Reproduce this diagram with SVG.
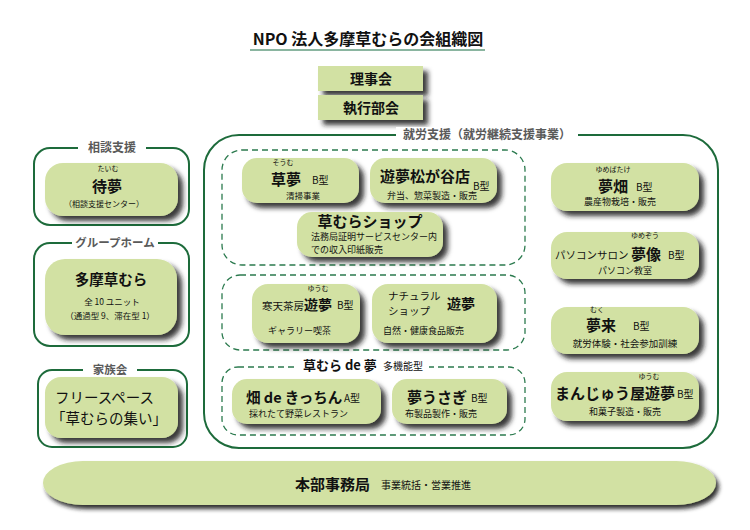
<svg xmlns="http://www.w3.org/2000/svg" width="750" height="530" viewBox="0 0 750 530">
<defs>
<filter id="sh" x="-10%" y="-20%" width="130%" height="160%">
<feGaussianBlur in="SourceAlpha" stdDeviation="2.5"/>
<feOffset dx="5" dy="5" result="b"/>
<feFlood flood-color="#1a1a1a" flood-opacity="0.85"/>
<feComposite in2="b" operator="in"/>
<feMerge><feMergeNode/><feMergeNode in="SourceGraphic"/></feMerge>
</filter>
<filter id="shb" x="-5%" y="-30%" width="110%" height="180%">
<feGaussianBlur in="SourceAlpha" stdDeviation="2"/>
<feOffset dx="3" dy="4" result="b"/>
<feFlood flood-color="#1a1a1a" flood-opacity="0.9"/>
<feComposite in2="b" operator="in"/>
<feMerge><feMergeNode/><feMergeNode in="SourceGraphic"/></feMerge>
</filter>
</defs>
<style>
text{font-family:"Noto Sans CJK JP","Noto Sans",sans-serif;fill:#111}
.n{fill:#d2e1a3;filter:url(#sh)}
.o{fill:none;stroke:#1d6b3b;stroke-width:2}
.d{fill:none;stroke:#2b7a4e;stroke-width:1.3;stroke-dasharray:6 4}
.lb{fill:#fff}
.gl{font-size:12px;font-weight:bold;fill:#5a5a5a}
.t{font-size:15px;font-weight:bold}
.r{font-size:7px}
.s{font-size:9px}
.k{font-size:10px}
.m{text-anchor:middle}
</style>
<rect width="750" height="530" fill="#fff"/>
<g id="title">
<text x="368" y="45" class="m" style="font-size:16px;font-weight:bold">NPO 法人多摩草むらの会組織図</text>
<line x1="250" y1="50" x2="485" y2="50" stroke="#8ab5a0" stroke-width="2"/>
</g>
<g id="rijikai">
<rect x="318" y="66" width="105" height="25" class="n"/>
<text x="371" y="84" class="m" style="font-size:14px;font-weight:bold">理事会</text>
</g>
<g id="shikkoubukai">
<rect x="318" y="95" width="105" height="25" class="n"/>
<text x="371" y="113" class="m" style="font-size:14px;font-weight:bold">執行部会</text>
</g>
<g id="group-soudan">
<rect x="34" y="148" width="155" height="77" rx="16" class="o"/>
<rect x="78" y="140" width="68" height="16" class="lb"/>
<text x="112" y="152" class="gl m">相談支援</text>
</g>
<g id="node-taimu">
<rect x="45" y="163" width="133" height="53" rx="18" class="n"/>
<text x="108" y="171" class="r m">たいむ</text>
<text x="107" y="192" class="m" style="font-size:15px;font-weight:bold">待夢</text>
<text x="104" y="207" class="m" style="font-size:8px">（相談支援センター）</text>
</g>
<g id="group-gh">
<rect x="34" y="243" width="155" height="103" rx="16" class="o"/>
<rect x="72" y="235" width="86" height="16" class="lb"/>
<text x="115" y="247" class="gl m" style="font-size:11.5px">グループホーム</text>
</g>
<g id="node-tamakusamura">
<rect x="45" y="259" width="132" height="76" rx="20" class="n"/>
<text x="111" y="285" class="m" style="font-size:14.5px;font-weight:bold">多摩草むら</text>
<text x="112" y="305" class="m" style="font-size:8.5px">全 10 ユニット</text>
<text x="110" y="319" class="m" style="font-size:8.5px">（通過型 9、滞在型 1）</text>
</g>
<g id="group-kazoku">
<rect x="38" y="370" width="149" height="77" rx="14" class="o"/>
<rect x="83" y="362" width="54" height="16" class="lb"/>
<text x="110" y="374" class="gl m" style="font-size:11.5px">家族会</text>
</g>
<g id="node-freespace">
<rect x="45" y="377" width="133" height="61" rx="16" class="n"/>
<text x="55" y="403" style="font-size:14.5px">フリースペース</text>
<text x="51" y="424" style="font-size:14.5px">「草むらの集い」</text>
</g>
<g id="group-shuurou">
<rect x="204" y="135" width="514" height="313" rx="35" class="o"/>
<rect x="396" y="127" width="182" height="16" class="lb"/>
<text x="403" y="139" class="gl">就労支援（就労継続支援事業）</text>
<rect x="222" y="150" width="303" height="115" rx="20" class="d"/>
<rect x="222" y="275" width="303" height="75" rx="18" class="d"/>
<rect x="222" y="367" width="303" height="68" rx="16" class="d"/>
<rect x="297" y="358" width="132" height="16" class="lb"/>
<text x="303" y="370" style="font-size:13px;font-weight:bold">草むら de 夢</text>
<text x="383" y="370" class="k">多機能型</text>
</g>
<g id="node-soumu">
<rect x="242" y="158" width="117" height="45" rx="15" class="n"/>
<text x="283" y="165" class="r m">そうむ</text>
<text x="286" y="185" class="t m">草夢</text>
<text x="312" y="184" class="k">B型</text>
<text x="303" y="199" class="m" style="font-size:8.5px">清掃事業</text>
</g>
<g id="node-matsugaya">
<rect x="370" y="158" width="127" height="45" rx="15" class="n"/>
<text x="380" y="182" class="t">遊夢松が谷店</text>
<text x="473" y="190" class="k">B型</text>
<text x="432" y="199" class="s m">弁当、惣菜製造・販売</text>
</g>
<g id="node-shop">
<rect x="297" y="212" width="146" height="45" rx="15" class="n"/>
<text x="370" y="227" class="t m">草むらショップ</text>
<text x="311" y="240" class="s">法務局証明サービスセンター内</text>
<text x="311" y="253" class="s">での収入印紙販売</text>
</g>
<g id="node-kanten">
<rect x="252" y="284" width="108" height="59" rx="16" class="n"/>
<text x="318" y="291" class="r m">ゆうむ</text>
<text x="262" y="310" style="font-size:10.5px">寒天茶房</text>
<text x="304" y="310" style="font-size:14px;font-weight:bold">遊夢</text>
<text x="337" y="309" class="k">B型</text>
<text x="268" y="334" class="s">ギャラリー喫茶</text>
</g>
<g id="node-natural">
<rect x="372" y="284" width="125" height="59" rx="16" class="n"/>
<text x="388" y="300" style="font-size:10.5px">ナチュラル</text>
<text x="388" y="315" style="font-size:10.5px">ショップ</text>
<text x="447" y="309" style="font-size:14px;font-weight:bold">遊夢</text>
<text x="383" y="334" class="s">自然・健康食品販売</text>
</g>
<g id="node-hatake-kitchen">
<rect x="232" y="379" width="149" height="45" rx="15" class="n"/>
<text x="246" y="403" style="font-size:14.5px;font-weight:bold">畑 de きっちん</text>
<text x="344" y="402" class="k">A型</text>
<text x="249" y="417" class="s">採れたて野菜レストラン</text>
</g>
<g id="node-yumeusagi">
<rect x="392" y="379" width="115" height="45" rx="15" class="n"/>
<text x="407" y="403" class="t">夢うさぎ</text>
<text x="471" y="402" class="k">B型</text>
<text x="405" y="417" class="s">布製品製作・販売</text>
</g>
<g id="node-yumebatake">
<rect x="551" y="163" width="148" height="48" rx="16" class="n"/>
<text x="613" y="172" class="r m">ゆめばたけ</text>
<text x="598" y="192" class="t">夢畑</text>
<text x="636" y="191" class="k">B型</text>
<text x="620" y="205" class="s m">農産物栽培・販売</text>
</g>
<g id="node-yumezou">
<rect x="551" y="232" width="148" height="47" rx="16" class="n"/>
<text x="645" y="238" class="r m">ゆめぞう</text>
<text x="555" y="259" style="font-size:10.5px">パソコンサロン</text>
<text x="631" y="260" class="t">夢像</text>
<text x="668" y="259" class="k">B型</text>
<text x="625" y="274" class="s m">パソコン教室</text>
</g>
<g id="node-muku">
<rect x="551" y="307" width="148" height="47" rx="16" class="n"/>
<text x="597" y="312" class="r m">むく</text>
<text x="586" y="331" class="t">夢来</text>
<text x="633" y="330" class="k">B型</text>
<text x="625" y="347" class="m" style="font-size:9.5px">就労体験・社会参加訓練</text>
</g>
<g id="node-manjuu">
<rect x="551" y="372" width="148" height="49" rx="16" class="n"/>
<text x="649" y="379" class="r m">ゆうむ</text>
<text x="555" y="399" class="t">まんじゅう屋遊夢</text>
<text x="677" y="398" class="k">B型</text>
<text x="625" y="415" class="s m">和菓子製造・販売</text>
</g>
<g id="node-honbu">
<rect x="43" y="461" width="673" height="44" rx="40" ry="22" fill="#d2e1a3" filter="url(#shb)"/>
<text x="295" y="490" class="t">本部事務局</text>
<text x="381" y="489" class="k">事業統括・営業推進</text>
</g>
<g id="connectors"/>
</svg>
